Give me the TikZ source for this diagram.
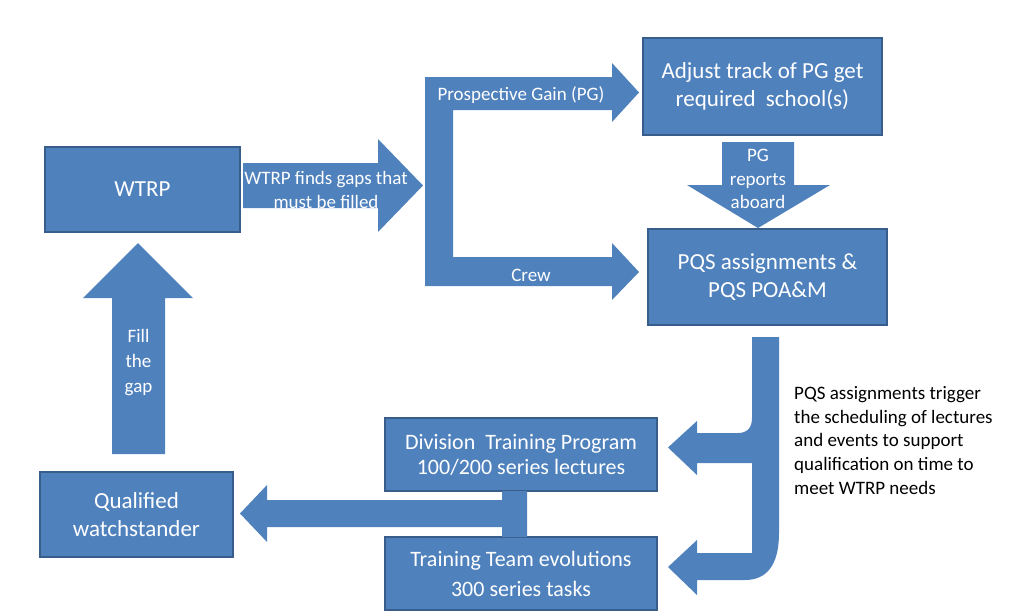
\documentclass[tikz,border=0pt]{standalone}
\usepackage{fontspec}
\setmainfont{Carlito}
\definecolor{fillc}{HTML}{4F81BD}
\definecolor{bordc}{HTML}{385D8A}
\begin{document}
\begin{tikzpicture}[x=1pt,y=-1pt,
  box/.style={draw=bordc, line width=1.5pt, fill=fillc, text=white,
    font=\fontsize{23}{28}\selectfont, align=center, inner sep=0pt},
  lbl/.style={text=white, font=\fontsize{19}{24}\selectfont, align=center, inner sep=0pt},
  blk/.style={fill=fillc, draw=none}]
\useasboundingbox (0,0) rectangle (1021,611);
\fill[white] (0,0) rectangle (1021,611);

% boxes
\node[box, minimum width=195pt, minimum height=85pt] (wtrp) at (142.5,189.5) {WTRP};
\node[box, minimum width=239pt, minimum height=97pt] (adjust) at (762.5,86.5) {Adjust track of PG get\\required\ \ school(s)};
\node[box, minimum width=239pt, minimum height=96pt] (pqs) at (767.5,277) {PQS assignments \&\\PQS POA\&M};
\node[box, font=\fontsize{22}{25}\selectfont, minimum width=272pt, minimum height=73pt] (div) at (521,454.5) {Division\ \ Training Program\\100/200 series lectures};
\node[box, font=\fontsize{22}{30}\selectfont, minimum width=272pt, minimum height=73pt] (team) at (521,573.5) {Training Team evolutions\\300 series tasks};
\node[box, minimum width=193pt, minimum height=85pt] (qual) at (136.5,514.5) {Qualified\\watchstander};

% WTRP finds gaps arrow
\fill[blk] (243,163) -- (378,163) -- (378,139) -- (423,185.5) -- (378,232) -- (378,208) -- (243,208) -- cycle;
\node[lbl] (gaps) at (326,190) {WTRP finds gaps that\\must be filled};

% bracket arrow (PG / Crew)
\fill[blk] (425,77) -- (612,77) -- (612,63) -- (639,92.5) -- (612,122) -- (612,110)
  -- (453,110) -- (453,257) -- (612,257) -- (612,243) -- (639,272) -- (612,300)
  -- (612,286) -- (425,286) -- cycle;
\node[lbl] (pg) at (521,95) {Prospective Gain (PG)};
\node[lbl] (crew) at (531,275) {Crew};

% PG reports aboard arrow
\fill[blk] (722,142) -- (794,142) -- (794,185) -- (830,185) -- (758,228) -- (687,185) -- (722,185) -- cycle;
\node[lbl, font=\fontsize{19}{23.5}\selectfont] (rep) at (758,179) {PG\\reports\\aboard};

% right curved double arrow
\fill[blk] (752,337) -- (779,337) -- (779,533) .. controls (779,566) and (766,580) .. (745,580)
  -- (697,580) -- (697,595) -- (668,567) -- (697,540) -- (697,553) -- (752,553)
  -- (752,463) -- (697,463) -- (697,475) -- (668,447.5) -- (697,421) -- (697,433)
  -- (738,433) .. controls (747,433) and (752,428) .. (752,418) -- cycle;
\node[anchor=west, align=left, inner sep=0pt, text=black,
  font=\fontsize{19}{23.7}\selectfont] (note) at (794,440.5)
  {PQS assignments trigger\\the scheduling of lectures\\and events to support\\qualification on time to\\meet WTRP needs};

% left arrow to Qualified watchstander
\fill[blk] (527,491) -- (527,537) -- (502,537) -- (502,527) -- (267,527) -- (267,542)
  -- (240,513.5) -- (267,485) -- (267,500) -- (502,500) -- (502,491) -- cycle;

% Fill the gap arrow
\fill[blk] (112,454) -- (112,298) -- (83,298) -- (138,243) -- (193,298) -- (165,298) -- (165,454) -- cycle;
\node[lbl, font=\fontsize{19}{25}\selectfont] (fill) at (138.5,363) {Fill\\the\\gap};
\end{tikzpicture}
\end{document}
